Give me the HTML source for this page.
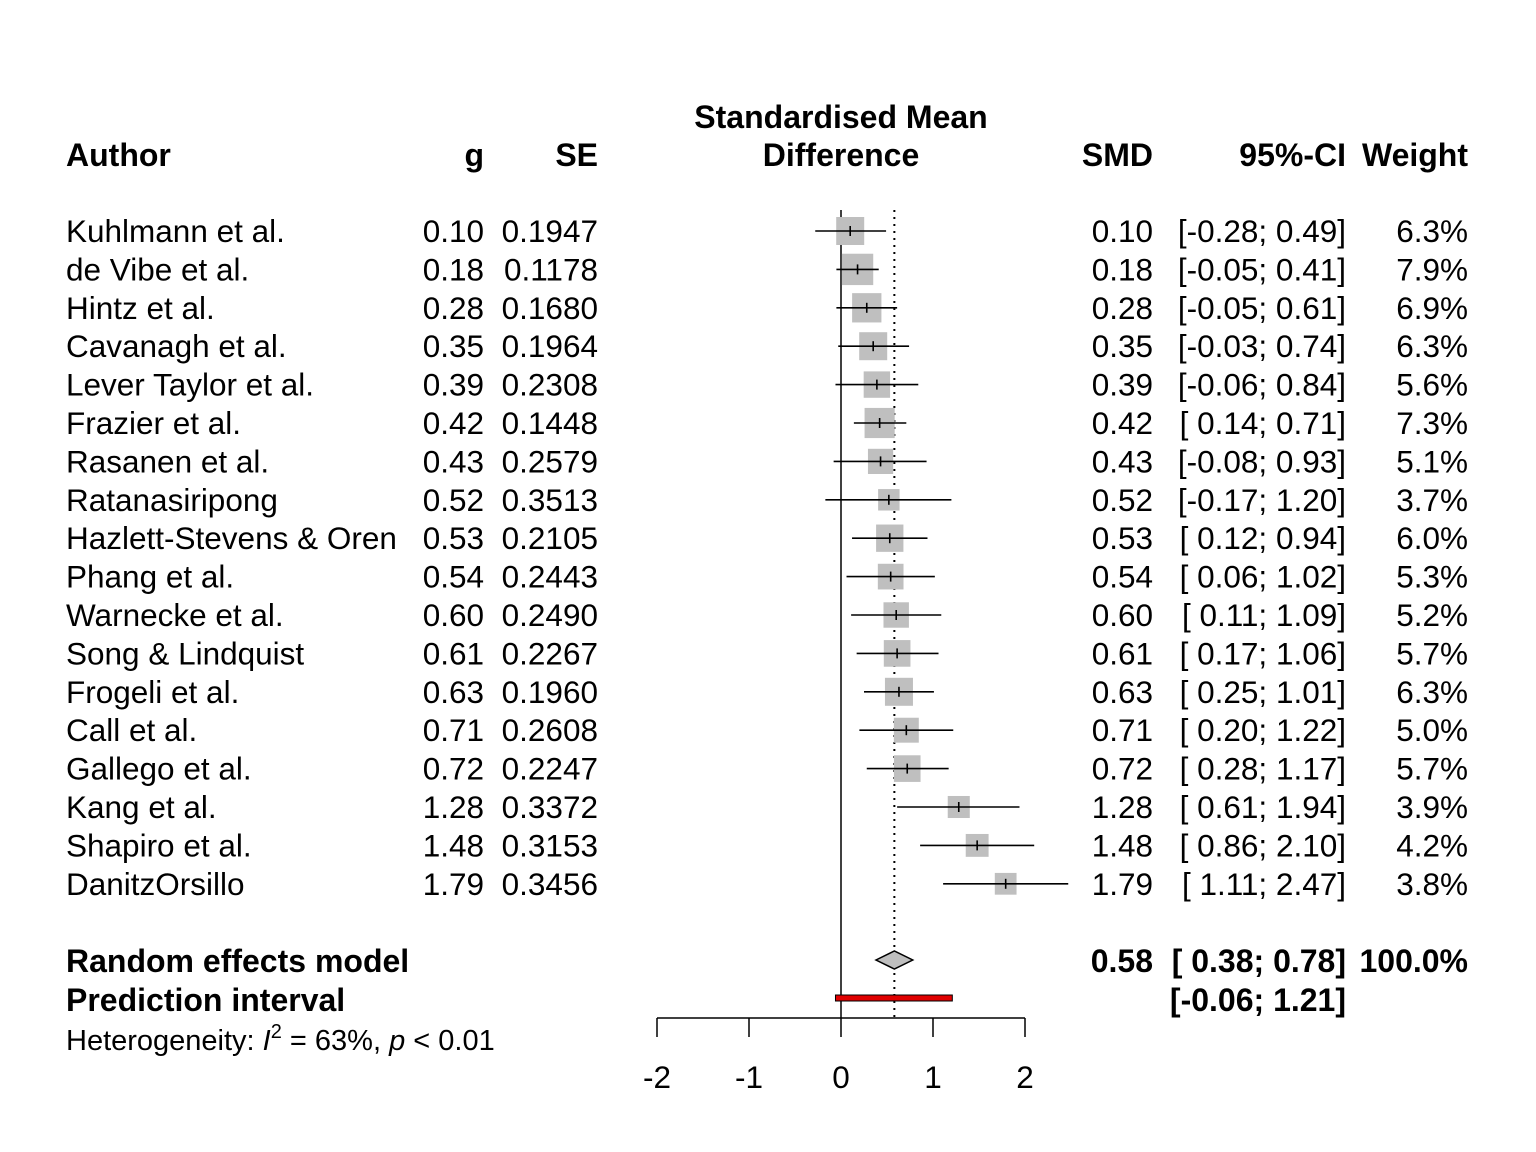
<!DOCTYPE html>
<html><head><meta charset="utf-8"><style>
body{margin:0;background:#fff}
svg{display:block;font-family:"Liberation Sans",Arial,sans-serif}
text{white-space:pre}
</style></head><body>
<svg id="chart" width="1536" height="1152" viewBox="0 0 1536 1152"></svg>
<script>
const authors=["Kuhlmann et al.","de Vibe et al.","Hintz et al.","Cavanagh et al.","Lever Taylor et al.","Frazier et al.","Rasanen et al.","Ratanasiripong","Hazlett-Stevens & Oren","Phang et al.","Warnecke et al.","Song & Lindquist","Frogeli et al.","Call et al.","Gallego et al.","Kang et al.","Shapiro et al.","DanitzOrsillo"];
const gVals=[0.10,0.18,0.28,0.35,0.39,0.42,0.43,0.52,0.53,0.54,0.60,0.61,0.63,0.71,0.72,1.28,1.48,1.79];
const seVals=["0.1947","0.1178","0.1680","0.1964","0.2308","0.1448","0.2579","0.3513","0.2105","0.2443","0.2490","0.2267","0.1960","0.2608","0.2247","0.3372","0.3153","0.3456"];
const lowerVals=[-0.28,-0.05,-0.05,-0.03,-0.06,0.14,-0.08,-0.17,0.12,0.06,0.11,0.17,0.25,0.20,0.28,0.61,0.86,1.11];
const upperVals=[0.49,0.41,0.61,0.74,0.84,0.71,0.93,1.20,0.94,1.02,1.09,1.06,1.01,1.22,1.17,1.94,2.10,2.47];
const weightVals=[6.3,7.9,6.9,6.3,5.6,7.3,5.1,3.7,6.0,5.3,5.2,5.7,6.3,5.0,5.7,3.9,4.2,3.8];
const pooled=[0.58,0.38,0.78];
const predInt=[-0.06,1.21];
const ticks=[-2,-1,0,1,2];

const svg=document.getElementById('chart');
const NS='http://www.w3.org/2000/svg';
const X=v=>841+92*v;
const Y=i=>231+38.4*i;
function el(tag,attrs,txt){const e=document.createElementNS(NS,tag);for(const k in attrs)e.setAttribute(k,attrs[k]);if(txt!==undefined)e.textContent=txt;svg.appendChild(e);return e;}
function txt(x,y,s,anchor,bold,size){return el('text',{x:x,y:y,'font-size':size||(bold?32:31.5),'text-anchor':anchor||'start','font-weight':bold?'bold':'normal',fill:'#000'},s);}
const f2=v=>(v<0?'-':' ')+Math.abs(v).toFixed(2);

let h;
h=txt(66,166,'Author','start',true);
h=txt(484,166,'g','end',true);
h=txt(598,166,'SE','end',true);
h=txt(841,128,'Standardised Mean','middle',true);
h=txt(841,166,'Difference','middle',true);
h=txt(1153,166,'SMD','end',true);
h=txt(1346,166,'95%-CI','end',true);
h=txt(1468,166,'Weight','end',true);

let l=el('line',{x1:X(0),x2:X(0),y1:210,y2:1018,stroke:'#000','stroke-width':1.5});

l=el('line',{x1:X(pooled[0]),x2:X(pooled[0]),y1:210,y2:1018,stroke:'#000','stroke-width':2,'stroke-dasharray':'2,5'});


authors.forEach((a,i)=>{
  const y=Y(i), by=y+11;
  let t=txt(66,by,a);
  t=txt(484,by,gVals[i].toFixed(2),'end');
  t=txt(598,by,seVals[i],'end');
  t=txt(1153,by,gVals[i].toFixed(2),'end');
  t=txt(1346,by,'['+f2(lowerVals[i])+';'+f2(upperVals[i])+']','end');
  t=txt(1468,by,weightVals[i].toFixed(1)+'%','end');
  const s=28*Math.sqrt(weightVals[i]/6.3);
  const sq=el('rect',{x:X(gVals[i])-s/2,y:y-s/2,width:s,height:s,fill:'#bfbfbf'});
  
  const ci=el('line',{x1:X(lowerVals[i]),x2:X(upperVals[i]),y1:y,y2:y,stroke:'#000','stroke-width':1.6});
  
  const tk=el('line',{x1:X(gVals[i]),x2:X(gVals[i]),y1:y-5,y2:y+5,stroke:'#000','stroke-width':1.6});
  
});

const dy=960;
let d=el('polygon',{points:`${X(pooled[1])},${dy} ${X(pooled[0])},${dy-9} ${X(pooled[2])},${dy} ${X(pooled[0])},${dy+9}`,fill:'#bfbfbf',stroke:'#000','stroke-width':1.5});

let r=el('rect',{x:X(predInt[0]),y:995,width:X(predInt[1])-X(predInt[0]),height:6,fill:'#e00000',stroke:'#000','stroke-width':1});


let t;
t=txt(66,972,'Random effects model','start',true);
t=txt(66,1011,'Prediction interval','start',true);
t=txt(1153,972,pooled[0].toFixed(2),'end',true);
t=txt(1346,972,'['+f2(pooled[1])+';'+f2(pooled[2])+']','end',true);
t=txt(1468,972,'100.0%','end',true);
t=txt(1346,1011,'['+f2(predInt[0])+';'+f2(predInt[1])+']','end',true);

const het=document.createElementNS(NS,'text');
het.setAttribute('x',66);het.setAttribute('y',1050);het.setAttribute('font-size',29);

het.innerHTML='Heterogeneity: <tspan font-style="italic">I</tspan><tspan dy="-12" font-size="20">2</tspan><tspan dy="12"> = 63%, </tspan><tspan font-style="italic">p</tspan> &lt; 0.01';
svg.appendChild(het);

let ax=el('line',{x1:X(ticks[0]),x2:X(ticks[ticks.length-1]),y1:1018,y2:1018,stroke:'#000','stroke-width':1.5});

ticks.forEach(v=>{
  const tk=el('line',{x1:X(v),x2:X(v),y1:1018,y2:1037,stroke:'#000','stroke-width':1.5});
  
  const lb=txt(X(v),1088,String(v),'middle');
  
});
</script>
</body></html>
